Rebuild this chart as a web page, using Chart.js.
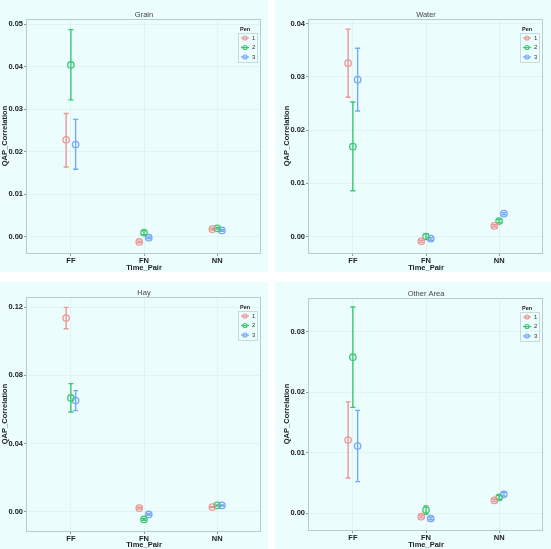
<!DOCTYPE html>
<html>
<head>
<meta charset="utf-8">
<script src="https://cdn.jsdelivr.net/npm/chart.js@4/dist/chart.umd.min.js"></script>
<style>
  html, body { margin: 0; padding: 0; background: #fff; }
  body { width: 551px; height: 549px; position: relative; overflow: hidden; }
  .panel { position: absolute; background: #ecfdfd; }
  canvas { display: block; }
</style>
</head>
<body>
<div class="panel" style="left:0;top:0"><canvas id="grain" width="268" height="272"></canvas></div>
<div class="panel" style="left:275px;top:0"><canvas id="water" width="276" height="272"></canvas></div>
<div class="panel" style="left:0;top:282px"><canvas id="hay" width="268" height="267"></canvas></div>
<div class="panel" style="left:275px;top:282px"><canvas id="other" width="276" height="267"></canvas></div>
<script>
const categories = ['FF', 'FN', 'NN']
const pens = ['1', '2', '3']

// rows = Pen 1..3, columns = FF, FN, NN
const grainMean = [[0.0228, -0.0012, 0.0018], [0.0404, 0.0010, 0.0020], [0.0217, -0.0002, 0.0015]]
const grainLow  = [[0.0164, -0.0014, 0.0016], [0.0322, 0.0005, 0.0018], [0.0159, -0.0004, 0.0013]]
const grainHigh = [[0.0290, -0.0010, 0.0020], [0.0487, 0.0014, 0.0022], [0.0276, 0.0000, 0.0017]]
const grainRange = [-0.0038, 0.0512]
const grainTicks = [0, 0.01, 0.02, 0.03, 0.04, 0.05]

const waterMean = [[0.0326, -0.0009, 0.0020], [0.0169, 0.0000, 0.0029], [0.0295, -0.0004, 0.0043]]
const waterLow  = [[0.0262, -0.0011, 0.0018], [0.0086, -0.0005, 0.0026], [0.0236, -0.0007, 0.0041]]
const waterHigh = [[0.0390, -0.0007, 0.0022], [0.0253, 0.0005, 0.0032], [0.0354, -0.0002, 0.0045]]
const waterRange = [-0.0031, 0.0409]
const waterTicks = [0, 0.01, 0.02, 0.03, 0.04]

const hayMean = [[0.1136, 0.0021, 0.0027], [0.0667, -0.0045, 0.0037], [0.0652, -0.0016, 0.0037]]
const hayLow  = [[0.1073, 0.0016, 0.0024], [0.0585, -0.0050, 0.0033], [0.0593, -0.0021, 0.0034]]
const hayHigh = [[0.1198, 0.0026, 0.0030], [0.0751, -0.0040, 0.0040], [0.0710, -0.0011, 0.0040]]
const hayRange = [-0.0113, 0.1259]
const hayTicks = [0, 0.04, 0.08, 0.12]

const otherMean = [[0.0121, -0.0006, 0.0021], [0.0258, 0.0005, 0.0026], [0.0111, -0.0009, 0.0031]]
const otherLow  = [[0.0058, -0.0008, 0.0019], [0.0175, -0.0002, 0.0023], [0.0052, -0.0011, 0.0028]]
const otherHigh = [[0.0184, -0.0004, 0.0023], [0.0341, 0.0012, 0.0029], [0.0170, -0.0007, 0.0034]]
const otherRange = [-0.0028, 0.0356]
const otherTicks = [0, 0.01, 0.02, 0.03]

const penColors = ['rgb(236,150,150)', 'rgb(60,200,115)', 'rgb(118,166,250)']
const dodge = [-0.065, 0, 0.065]
const FONT = '"Liberation Sans", Arial, sans-serif'

// plot frame + error bars (drawn over the grid, under the points)
const errorBars = {
  id: 'errorBars',
  beforeDatasetsDraw(chart) {
    const { ctx, scales: { x, y }, chartArea: a } = chart
    ctx.save()
    ctx.lineWidth = 1
    ctx.strokeStyle = '#b9cccc'
    ctx.strokeRect(a.left - 0.5, a.top + 0.5, a.right - a.left, a.bottom - a.top)
    ctx.lineWidth = 1.4
    chart.data.datasets.forEach((ds, i) => {
      ctx.strokeStyle = penColors[i]
      ds.data.forEach(pt => {
        const px = x.getPixelForValue(pt.x)
        const lo = y.getPixelForValue(pt.lo)
        const hi = y.getPixelForValue(pt.hi)
        ctx.beginPath()
        ctx.moveTo(px, lo)
        ctx.lineTo(px, hi)
        ctx.moveTo(px - 2.5, lo)
        ctx.lineTo(px + 2.5, lo)
        ctx.moveTo(px - 2.5, hi)
        ctx.lineTo(px + 2.5, hi)
        ctx.stroke()
      })
    })
    ctx.restore()
  }
}

// panel title + "Pen" legend inside the plot
const panelDecor = {
  id: 'panelDecor',
  afterDraw(chart, args, opts) {
    const { ctx, chartArea: a } = chart
    ctx.save()
    ctx.fillStyle = '#444'
    ctx.font = '7.5px ' + FONT
    ctx.textAlign = 'center'
    ctx.textBaseline = 'middle'
    ctx.fillText(opts.text, (a.left + a.right) / 2, a.top - 4)

    const x0 = a.right - 21, y0 = a.top + 10
    ctx.lineWidth = 1
    ctx.strokeStyle = 'rgba(190,210,210,0.8)'
    ctx.strokeRect(x0 - 1.5, y0 + 4.5, 19, 29)
    ctx.textAlign = 'left'
    ctx.fillStyle = '#222'
    ctx.font = 'bold 5.5px ' + FONT
    ctx.fillText('Pen', x0, y0)
    ctx.font = '6px ' + FONT
    pens.forEach((p, i) => {
      const yy = y0 + 9 + i * 9.5
      ctx.strokeStyle = penColors[i]
      ctx.lineWidth = 1.2
      ctx.beginPath()
      ctx.moveTo(x0 + 1, yy)
      ctx.lineTo(x0 + 9, yy)
      ctx.stroke()
      ctx.beginPath()
      ctx.arc(x0 + 5, yy, 2, 0, Math.PI * 2)
      ctx.stroke()
      ctx.fillStyle = '#333'
      ctx.fillText(p, x0 + 12, yy)
    })
    ctx.restore()
  }
}

function makePanel(id, title, mean, low, high, range, ticks, pad, xHeight) {
  const datasets = pens.map((p, i) => ({
    label: p,
    data: categories.map((c, j) => ({ x: j + 1 + dodge[i], y: mean[i][j], lo: low[i][j], hi: high[i][j] })),
    borderColor: penColors[i],
    backgroundColor: 'rgba(0,0,0,0)',
    pointRadius: 3.2,
    pointBorderWidth: 1.3,
    showLine: false
  }))
  const tickFont = { family: FONT, size: 7.5, weight: 'bold' }
  const grid = () => ({ color: 'rgba(205,225,225,0.35)', tickLength: 3, tickColor: '#8a9a9a', lineWidth: 1 })

  new Chart(document.getElementById(id), {
    type: 'scatter',
    data: { datasets },
    options: {
      responsive: false,
      animation: false,
      layout: { padding: { left: pad[0], top: pad[1], right: pad[2], bottom: 0 } },
      plugins: {
        legend: { display: false },
        tooltip: { enabled: false },
        panelDecor: { text: title }
      },
      scales: {
        x: {
          type: 'linear', min: 0.4, max: 3.6,
          afterBuildTicks: s => { s.ticks = categories.map((c, i) => ({ value: i + 1 })) },
          afterFit: s => { s.height = xHeight },
          ticks: { callback: v => categories[Math.round(v) - 1], font: tickFont, color: '#222', padding: 0, maxRotation: 0, autoSkip: false },
          grid: grid(),
          border: { display: false },
          title: { display: true, text: 'Time_Pair', font: tickFont, color: '#222', padding: 0 }
        },
        y: {
          min: range[0], max: range[1],
          afterBuildTicks: s => { s.ticks = ticks.map(v => ({ value: v })) },
          afterFit: s => { s.width = 27 },
          ticks: { callback: v => v.toFixed(2), font: tickFont, color: '#222', padding: 1 },
          grid: grid(),
          border: { display: false },
          title: { display: true, text: 'QAP_Correlation', font: tickFont, color: '#222', padding: 0 }
        }
      }
    },
    plugins: [errorBars, panelDecor]
  })
}

makePanel('grain', 'Grain', grainMean, grainLow, grainHigh, grainRange, grainTicks, [0, 19, 7], 19)
makePanel('water', 'Water', waterMean, waterLow, waterHigh, waterRange, waterTicks, [7, 19, 8], 19)
makePanel('hay', 'Hay', hayMean, hayLow, hayHigh, hayRange, hayTicks, [0, 15, 7], 18)
makePanel('other', 'Other Area', otherMean, otherLow, otherHigh, otherRange, otherTicks, [7, 16, 8], 19)
</script>
</body>
</html>
